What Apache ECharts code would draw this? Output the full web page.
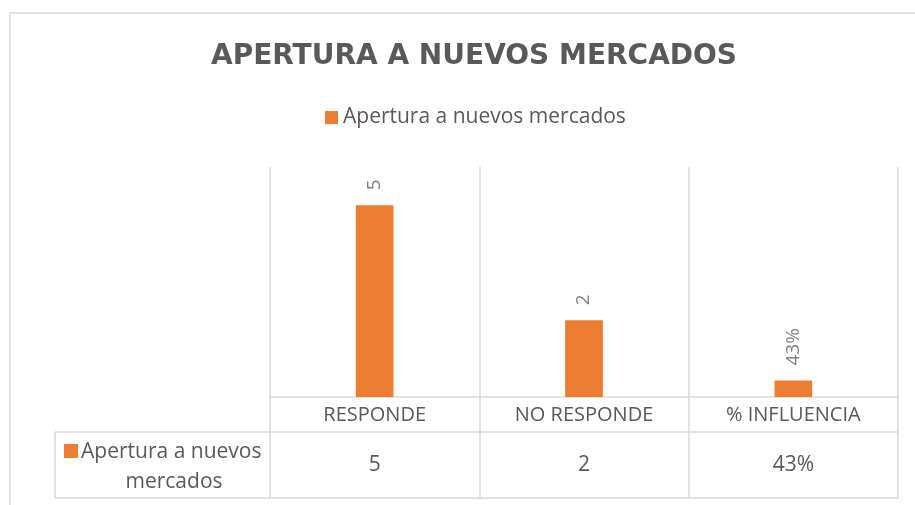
<!DOCTYPE html>
<html>
<head>
<meta charset="utf-8">
<script src="https://cdn.jsdelivr.net/npm/echarts@6/dist/echarts.min.js"></script>
<style>
  html, body { margin: 0; padding: 0; background: #fff; }
  #main { width: 915px; height: 505px; }
</style>
</head>
<body>
<div id="main"></div>
<script>
  // datos del gráfico
  var chartTitle = 'APERTURA A NUEVOS MERCADOS';
  var seriesName = 'Apertura a nuevos mercados';
  var categories = ['RESPONDE', 'NO RESPONDE', '% INFLUENCIA'];
  var values = [5, 2, 0.43];
  var isPercent = [false, false, true];

  var orange = '#ed7d31';
  var gray = '#595959';
  var lineGray = '#d9d9d9';

  // texto de cada valor (tabla y etiquetas)
  function fmt(v, i) {
    return isPercent[i] ? Math.round(v * 100) + '%' : String(v);
  }
  var valueTexts = values.map(fmt);

  var myChart = echarts.init(document.getElementById('main'));

  var option = {
    animation: false,
    title: {
      text: chartTitle,
      left: 469,
      top: 38,
      textAlign: 'center',
      textStyle: { fontFamily: 'DejaVu Sans', fontWeight: 'bold', fontSize: 28, color: gray }
    },
    legend: {
      data: [seriesName],
      left: 320,
      top: 102,
      icon: 'rect',
      itemWidth: 13,
      itemHeight: 13,
      textStyle: { fontFamily: 'Open Sans', fontSize: 21, color: gray }
    },
    grid: { left: 270, right: 17, top: 167, bottom: 108 },
    xAxis: [{
      type: 'category',
      data: categories,
      axisLine: { lineStyle: { color: lineGray, width: 1.5 } },
      axisTick: { show: true, interval: 0, length: 101, lineStyle: { color: lineGray, width: 1.5 } },
      splitLine: { show: true, interval: 0, lineStyle: { color: lineGray, width: 1.5 } },
      axisLabel: { interval: 0, margin: 18, verticalAlign: 'middle', fontFamily: 'Open Sans', fontSize: 20, color: gray }
    }, {
      type: 'category',
      position: 'bottom',
      data: valueTexts,
      axisLine: { show: false },
      axisTick: { show: false },
      splitLine: { show: false },
      axisLabel: { interval: 0, margin: 68, verticalAlign: 'middle', fontFamily: 'Open Sans', fontSize: 21, color: gray }
    }],
    yAxis: {
      type: 'value',
      min: 0,
      max: 6,
      show: false,
      splitLine: { show: false }
    },
    series: [{
      name: seriesName,
      type: 'bar',
      data: values,
      barWidth: '18%',
      itemStyle: { color: orange },
      label: {
        show: true,
        position: 'top',
        rotate: 90,
        distance: 15,
        align: 'left',
        verticalAlign: 'middle',
        fontFamily: 'Open Sans',
        fontSize: 19,
        color: '#7f7f7f',
        formatter: function (p) { return fmt(p.value, p.dataIndex); }
      }
    }],
    graphic: [
      // marco exterior
      { type: 'rect', shape: { x: 10, y: 13, width: 930, height: 520 }, style: { fill: 'none', stroke: lineGray, lineWidth: 1.5 }, silent: true },
      // líneas de la tabla de datos
      { type: 'line', shape: { x1: 55, y1: 432, x2: 898, y2: 432 }, style: { stroke: lineGray, lineWidth: 1.5 } },
      { type: 'line', shape: { x1: 55, y1: 498, x2: 898, y2: 498 }, style: { stroke: lineGray, lineWidth: 1.5 } },
      { type: 'line', shape: { x1: 55, y1: 432, x2: 55, y2: 498 }, style: { stroke: lineGray, lineWidth: 1.5 } },
      // clave de leyenda en la tabla
      { type: 'rect', shape: { x: 64, y: 444, width: 14, height: 14 }, style: { fill: orange } },
      {
        type: 'text',
        x: 174,
        y: 467,
        style: {
          text: seriesName,
          width: 190,
          overflow: 'break',
          align: 'center',
          verticalAlign: 'middle',
          lineHeight: 30,
          fontFamily: 'Open Sans',
          fontSize: 21,
          fill: gray
        }
      }
    ]
  };

  myChart.setOption(option);
</script>
</body>
</html>
